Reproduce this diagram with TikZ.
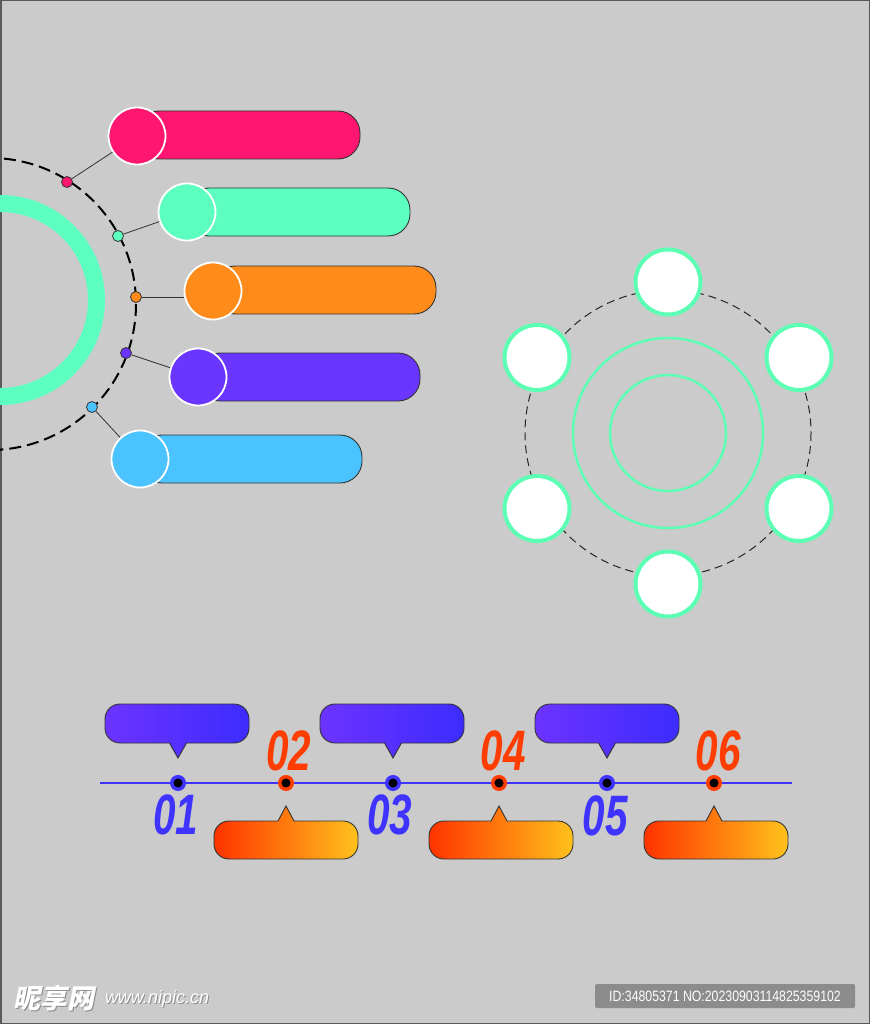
\documentclass[tikz,border=0pt]{standalone}
\usepackage{fontspec}
\usepackage{graphicx}
\setmainfont{Liberation Sans}
\newfontfamily\cjkfont{Noto Sans CJK SC}
\newfontfamily\numfont{Liberation Sans}
\definecolor{bgc}{HTML}{CBCBCB}
\definecolor{cpink}{HTML}{FF1670}
\definecolor{cgreen}{HTML}{5CFFC0}
\definecolor{corange}{HTML}{FF8C1A}
\definecolor{cpurple}{HTML}{6A35FF}
\definecolor{cblue}{HTML}{4BC3FF}
\definecolor{tblue}{HTML}{3F33FF}
\definecolor{tred}{HTML}{FF3D00}
\definecolor{gpurL}{HTML}{6C33FF}
\definecolor{gpurR}{HTML}{3D2CFF}
\definecolor{gorL}{HTML}{FF3300}
\definecolor{gorR}{HTML}{FFC21C}
\definecolor{outl}{HTML}{333333}
\definecolor{hexg}{HTML}{5CFFB4}
\begin{document}
\begin{tikzpicture}[x=1pt,y=-1pt,
  bar/.style={draw=outl,line width=0.9pt,rounded corners=22pt},
  bigdot/.style={circle,draw=white,line width=1.8pt,minimum size=57pt,inner sep=0pt},
  smalldot/.style={circle,draw=outl,line width=0.8pt,minimum size=11pt,inner sep=0pt},
  conn/.style={draw=outl,line width=0.8pt},
  hexdot/.style={circle,draw=hexg,fill=white,line width=4pt,minimum size=65pt,inner sep=0pt},
  tdot/.style={circle,fill=black,line width=3.5pt,minimum size=12.5pt,inner sep=0pt},
  callout/.style={draw=outl,line width=0.9pt},
  numlbl/.style={inner sep=0pt,font=\numfont\bfseries\itshape\fontsize{57}{57}\selectfont}
]
\useasboundingbox (0,0) rectangle (870,1024);
\clip (0,0) rectangle (870,1024);
\fill[bgc] (0,0) rectangle (870,1024);
\draw[color=black!65,line width=1.5pt] (0.75,0.75) rectangle (869.25,1023.25);

% ---------- left: half circle with bars ----------
\draw[cgreen,line width=17pt] (0,300) circle (96.5);
\draw[black,line width=2pt,dash pattern=on 12pt off 6pt] (-10,304) circle (146);

\node[smalldot,fill=cpink]   (d1) at (67,182) {};
\node[smalldot,fill=cgreen]  (d2) at (118,236) {};
\node[smalldot,fill=corange] (d3) at (136,297) {};
\node[smalldot,fill=cpurple] (d4) at (126,353) {};
\node[smalldot,fill=cblue]   (d5) at (92,407) {};

\draw[bar,fill=cpink]   (137,111) rectangle (360,159);
\draw[bar,fill=cgreen]  (187,188) rectangle (410,236);
\draw[bar,fill=corange] (213,266) rectangle (436,314);
\draw[bar,fill=cpurple] (198,353) rectangle (420,401);
\draw[bar,fill=cblue]   (140,435) rectangle (362,483);

\node[bigdot,fill=cpink]   (c1) at (137,136) {};
\node[bigdot,fill=cgreen]  (c2) at (187,212) {};
\node[bigdot,fill=corange] (c3) at (213,291) {};
\node[bigdot,fill=cpurple] (c4) at (198,377) {};
\node[bigdot,fill=cblue]   (c5) at (140,459) {};

\draw[conn] (d1) -- (c1);
\draw[conn] (d2) -- (c2);
\draw[conn] (d3) -- (c3.west |- d3);
\draw[conn] (d4) -- (c4);
\draw[conn] (d5) -- (c5);

% ---------- right: ring of circles ----------
\coordinate (hc) at (668,433);
\draw[black!85,line width=1pt,dash pattern=on 8pt off 5pt] (hc) circle (143);
\draw[hexg,line width=2.5pt] (hc) circle (95);
\draw[hexg,line width=2.5pt] (hc) circle (58);
\node[hexdot] (h1) at (668,282) {};
\node[hexdot] (h2) at (799,357.5) {};
\node[hexdot] (h3) at (799,508.5) {};
\node[hexdot] (h4) at (668,584) {};
\node[hexdot] (h5) at (537,508.5) {};
\node[hexdot] (h6) at (537,357.5) {};

% ---------- bottom: timeline ----------
\coordinate (tlA) at (100,783);
\coordinate (tlB) at (792,783);
\draw[tblue,line width=2pt] (tlA) -- (tlB);

\foreach \xl/\px in {105/178, 320/393, 535/607}{
  \draw[callout,left color=gpurL,right color=gpurR]
    (\px,758) -- (\px+8.5,743) [rounded corners=15pt] -- (\xl+144,743)
    -- (\xl+144,704) -- (\xl,704) -- (\xl,743) [sharp corners] -- (\px-8.5,743) -- cycle;
}
\foreach \xl/\px in {214/286, 429/499, 644/714}{
  \draw[callout,left color=gorL,right color=gorR]
    (\px,806) -- (\px-8,821) [rounded corners=15pt] -- (\xl,821)
    -- (\xl,859) -- (\xl+144,859) -- (\xl+144,821) [sharp corners] -- (\px+8,821) -- cycle;
}

\node[tdot,draw=tblue] (t1) at (178,783) {};
\node[tdot,draw=tred]  (t2) at (286,783) {};
\node[tdot,draw=tblue] (t3) at (393,783) {};
\node[tdot,draw=tred]  (t4) at (499,783) {};
\node[tdot,draw=tblue] (t5) at (607,783) {};
\node[tdot,draw=tred]  (t6) at (714,783) {};

\node[numlbl,text=tblue] (n1) at (176,815) {\scalebox{0.71}[1]{01}};
\node[numlbl,text=tred]  (n2) at (289,751) {\scalebox{0.71}[1]{02}};
\node[numlbl,text=tblue] (n3) at (390,815) {\scalebox{0.71}[1]{03}};
\node[numlbl,text=tred]  (n4) at (503,751) {\scalebox{0.71}[1]{04}};
\node[numlbl,text=tblue] (n5) at (605,816) {\scalebox{0.71}[1]{05}};
\node[numlbl,text=tred]  (n6) at (718,751) {\scalebox{0.71}[1]{06}};

% ---------- watermark ----------
\node[anchor=west,inner sep=0pt,text=black!45,xslant=0.2] (wm0s) at (16.8,999) {\cjkfont\bfseries\fontsize{27}{27}\selectfont 昵享网};
\node[anchor=west,inner sep=0pt,text=white,xslant=0.2] (wm0) at (15.5,997.8) {\cjkfont\bfseries\fontsize{27}{27}\selectfont 昵享网};
\node[anchor=west,inner sep=0pt,text=black!45] (wm1s) at (105.8,999.8) {\itshape\fontsize{18}{18}\selectfont www.nipic.cn};
\node[anchor=west,inner sep=0pt,text=white] (wm1) at (104.8,998.8) {\itshape\fontsize{18}{18}\selectfont www.nipic.cn};
\fill[black!45,rounded corners=1.5pt] (595,984) rectangle (855,1008);
\node[anchor=center,inner sep=0pt,text=white] (wm2) at (725,996) {\scalebox{0.82}[1]{\fontsize{15}{15}\selectfont ID:34805371 NO:20230903114825359102}};
\end{tikzpicture}
\end{document}
